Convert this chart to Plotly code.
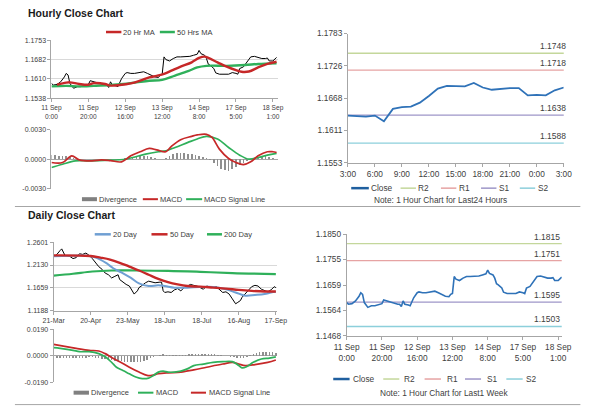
import plotly.graph_objects as go

W, H = 600, 413
FONT = "Liberation Sans, Arial, sans-serif"
TXT = "#404040"
AX = "#a6a6a6"
GRID = "#d9d9d9"


def px(x):
    return x / W


def py(y):
    return 1 - y / H


# ---------------- data ----------------
# hourly (last week), category index of hourly bars
hour_tick_idx = [0, 20, 40, 60, 80, 100, 120]
hour_tick_text = ["11 Sep<br>0:00", "11 Sep<br>20:00", "12 Sep<br>16:00", "13 Sep<br>12:00",
                  "14 Sep<br>8:00", "17 Sep<br>5:00", "18 Sep<br>1:00"]

hour_idx = [0, 1, 3, 5, 7, 8, 9, 10, 12, 14, 16, 18, 20, 21, 23, 25, 27, 29, 30, 31, 32, 33, 35, 36,
            38, 40, 41, 43, 45, 47, 49, 50, 52, 54, 56, 58, 59, 60, 61, 62, 64, 66, 68, 70, 71, 73,
            75, 77, 79, 80, 81, 83, 84, 85, 86, 88, 89, 91, 93, 95, 96, 98, 99, 100, 101, 102, 104,
            106, 108, 110, 111, 112, 114, 116, 117, 118, 120, 122]
hour_close = [1.1593, 1.1587, 1.1589, 1.1599, 1.1617, 1.1630, 1.1624, 1.1593, 1.1575, 1.1581, 1.1581,
              1.1584, 1.1589, 1.1603, 1.1599, 1.1593, 1.1589, 1.1587, 1.1587, 1.1578, 1.1599, 1.1587,
              1.1584, 1.1581, 1.1611, 1.1630, 1.1633, 1.1630, 1.1630, 1.1632, 1.1635, 1.1636, 1.1630,
              1.1624, 1.1617, 1.1615, 1.1624, 1.1627, 1.1691, 1.1681, 1.1676, 1.1685, 1.1691, 1.1691,
              1.1691, 1.1691, 1.1693, 1.1697, 1.1701, 1.1715, 1.1703, 1.1697, 1.1685, 1.1664, 1.1660,
              1.1648, 1.1632, 1.1627, 1.1626, 1.1626, 1.1627, 1.1633, 1.1632, 1.1630, 1.1627, 1.1648,
              1.1654, 1.1673, 1.1691, 1.1693, 1.1691, 1.1691, 1.1685, 1.1685, 1.1687, 1.1676, 1.1676,
              1.1689]

hour_ma20_idx = [3, 8, 10, 15, 20, 23, 29, 32, 37, 43, 48, 53, 57, 61, 65, 70, 76, 80, 83, 85, 90, 95,
                 100, 103, 107, 112, 117, 122]
hour_ma20 = [1.1588, 1.1596, 1.1597, 1.1591, 1.1588, 1.1594, 1.1591, 1.1585, 1.1587, 1.1593, 1.1603,
             1.1615, 1.1621, 1.1628, 1.1640, 1.1655, 1.1671, 1.1687, 1.1692, 1.1687, 1.1671, 1.1655,
             1.1642, 1.1636, 1.1637, 1.1652, 1.1665, 1.1673]

hour_ma50_idx = [0, 8, 15, 23, 32, 39, 46, 53, 60, 67, 74, 79, 84, 95, 105, 112, 122]
hour_ma50 = [1.1582, 1.1584, 1.1582, 1.1584, 1.1587, 1.1591, 1.1597, 1.1603, 1.1606, 1.1622, 1.1638,
             1.1652, 1.1658, 1.1658, 1.1661, 1.1665, 1.1667]

hour_macd_idx = [0, 6, 11, 15, 22, 27, 32, 38, 43, 48, 53, 57, 62, 65, 70, 76, 79, 84, 87, 91, 96, 100,
                 104, 108, 112, 117, 120, 122]
hour_macd = [-0.00034, -0.00034, 0.00034, -0.00007, -0.00017, -0.00007, -0.00014, -0.00027, 0.00034,
             0.00075, 0.00109, 0.00095, 0.00075, 0.00130, 0.00198, 0.00232, 0.00246, 0.00252, 0.00220,
             0.00102, 0.00007, -0.00034, -0.00055, -0.00027, 0.00034, 0.00075, 0.00075, 0.00068]

hour_signal_idx = [0, 6, 13, 20, 32, 39, 44, 51, 58, 62, 67, 74, 79, 84, 90, 96, 102, 107, 112, 117, 122]
hour_signal = [-0.00085, -0.00051, -0.00017, -0.00017, -0.00010, -0.00003, 0.00017, 0.00051, 0.00075,
               0.00085, 0.00119, 0.00170, 0.00205, 0.00232, 0.00205, 0.00119, 0.00041, 0.0, 0.00017,
               0.00041, 0.00058]

hour_div_idx = list(range(0, 123, 2))
hour_div = [0.0004, 0.0004, 0.00035, 0.0003, 0.0003, 0.00025, 0.0001, 0.00005, 0.00002, 0.00002,
            -0.00002, 0.00002, 0.00003, 0.00002, -0.00002, 0.00002, -0.00003, 0.00002, -0.00005,
            -0.0001, 0.0001, 0.0002, 0.00025, 0.0003, 0.0003, 0.0003, 0.0003, 0.0002, 0.0001, 0.00005,
            0.0, 0.0001, 0.0003, 0.0005, 0.0006, 0.0006, 0.0006, 0.00055, 0.0005, 0.0004, 0.0003,
            0.0002, 0.0001, -0.0001, -0.0004, -0.0007, -0.0010, -0.0011, -0.0012, -0.0010, -0.0008,
            -0.0006, -0.0004, -0.0002, 0.0, 0.0001, 0.0002, 0.0003, 0.0003, 0.0002, 0.0001, 0.00005]

# last 24 hours
h24_hours = list(range(25))
h24_close = [1.1637, 1.1636, 1.1635, 1.1637, 1.1627, 1.1649, 1.1652, 1.1653, 1.1660, 1.1672, 1.1685,
             1.1690, 1.1689, 1.1689, 1.1695, 1.1687, 1.1683, 1.1685, 1.1686, 1.1686, 1.1673, 1.1674,
             1.1673, 1.1682, 1.1687]
h24_tick_text = ["3:00", "6:00", "9:00", "12:00", "15:00", "18:00", "21:00", "0:00", "3:00"]
h24_tick_vals = [0, 3, 6, 9, 12, 15, 18, 21, 24]
h24_levels = {"R2": 1.1748, "R1": 1.1718, "S1": 1.1638, "S2": 1.1588}

# daily
day_tick_idx = [0, 23, 46, 69, 92, 115, 138]
day_tick_text = ["21-Mar", "20-Apr", "23-May", "18-Jun", "18-Jul", "16-Aug", "17-Sep"]

day_idx = [0, 2, 4, 5, 7, 10, 12, 14, 16, 18, 20, 22, 24, 26, 28, 30, 32, 34, 36, 38, 40, 41, 43, 45,
           47, 49, 50, 52, 53, 55, 57, 59, 61, 63, 66, 67, 68, 69, 71, 73, 75, 77, 79, 81, 83, 85, 87,
           89, 91, 93, 95, 97, 99, 101, 103, 105, 107, 109, 111, 113, 114, 116, 117, 119, 121, 123,
           125, 127, 129, 131, 133, 135, 137, 138]
day_close = [1.2296, 1.2349, 1.2429, 1.2462, 1.2329, 1.2309, 1.2263, 1.2283, 1.2362, 1.2349, 1.2376,
             1.2329, 1.2263, 1.2177, 1.2097, 1.2044, 1.1965, 1.1931, 1.1865, 1.1898, 1.1931, 1.1832,
             1.1779, 1.1732, 1.1699, 1.1580, 1.1534, 1.1600, 1.1666, 1.1713, 1.1766, 1.1799, 1.1779,
             1.1766, 1.1779, 1.1779, 1.1600, 1.1567, 1.1580, 1.1567, 1.1620, 1.1646, 1.1600, 1.1666,
             1.1699, 1.1732, 1.1713, 1.1699, 1.1666, 1.1633, 1.1699, 1.1686, 1.1666, 1.1686, 1.1633,
             1.1567, 1.1580, 1.1534, 1.1434, 1.1335, 1.1355, 1.1401, 1.1467, 1.1534, 1.1600, 1.1686,
             1.1713, 1.1699, 1.1633, 1.1600, 1.1580, 1.1620, 1.1686, 1.1666]

day_ma20_idx = [0, 21, 25, 29, 33, 37, 42, 48, 53, 59, 65, 69, 75, 83, 91, 99, 107, 113, 119, 125, 131,
                135, 138]
day_ma20 = [1.2309, 1.2322, 1.2296, 1.2243, 1.2163, 1.2064, 1.1978, 1.1865, 1.1752, 1.1699, 1.1713,
            1.1699, 1.1666, 1.1666, 1.1679, 1.1679, 1.1633, 1.1567, 1.1501, 1.1514, 1.1534, 1.1567,
            1.1580]

day_ma50_idx = [0, 23, 29, 35, 41, 47, 53, 59, 65, 71, 77, 83, 91, 99, 107, 115, 123, 131, 138]
day_ma50 = [1.2329, 1.2316, 1.2283, 1.2243, 1.2177, 1.2097, 1.2018, 1.1931, 1.1845, 1.1779, 1.1732,
            1.1699, 1.1686, 1.1666, 1.1646, 1.1620, 1.1600, 1.1587, 1.1587]

day_ma200_idx = [0, 12, 24, 36, 51, 71, 91, 111, 138]
day_ma200 = [1.1911, 1.1951, 1.1998, 1.2018, 1.2018, 1.2011, 1.1991, 1.1965, 1.1945]

day_macd_idx = [0, 4, 12, 16, 22, 28, 32, 36, 39, 43, 47, 51, 55, 59, 62, 65, 68, 71, 75, 79, 83, 87,
                93, 99, 105, 111, 115, 117, 120, 124, 129, 134, 138]
day_macd = [0.0059, 0.0054, 0.0040, 0.0030, 0.0030, 0.0016, -0.0007, -0.0047, -0.0082, -0.0106,
            -0.0129, -0.0152, -0.0164, -0.0160, -0.0141, -0.0117, -0.0110, -0.0117, -0.0117, -0.0110,
            -0.0094, -0.0070, -0.0059, -0.0047, -0.0042, -0.0042, -0.0070, -0.0087, -0.0077, -0.0047,
            -0.0023, -0.0016, -0.0007]

day_signal_idx = [0, 6, 14, 22, 28, 32, 36, 41, 47, 53, 58, 61, 65, 71, 79, 87, 95, 105, 111, 115, 119,
                  125, 133, 138]
day_signal = [0.0082, 0.0070, 0.0054, 0.0040, 0.0035, 0.0016, -0.0012, -0.0042, -0.0082, -0.0117,
              -0.0141, -0.0141, -0.0129, -0.0122, -0.0117, -0.0101, -0.0082, -0.0059, -0.0047, -0.0059,
              -0.0070, -0.0063, -0.0047, -0.0030]

day_div_idx = list(range(0, 139, 2))
day_div = [-0.0010, -0.0012, -0.0012, -0.0013, -0.0014, -0.0014,
           -0.0015, -0.0016, -0.0015, -0.0013, -0.0012,
           -0.0010, -0.0010, -0.0012, -0.0015,
           -0.0020, -0.0025, -0.0030, -0.0033, -0.0035,
           -0.0038, -0.0040, -0.0042, -0.0045, -0.0046,
           -0.0047, -0.0046, -0.0044, -0.0038, -0.0028,
           -0.0018, -0.0008, 0.0002, 0.0008, 0.0010,
           0.0008, 0.0006, 0.0004, 0.0003, 0.0004,
           0.0006, 0.0008, 0.0010, 0.0012, 0.0013,
           0.0014, 0.0015, 0.0015, 0.0014, 0.0012,
           0.0010, 0.0008, 0.0005, 0.0002, -0.0002,
           -0.0006, -0.0010, -0.0013, -0.0015, -0.0012,
           -0.0005, 0.0005, 0.0015, 0.0022, 0.0027,
           0.0030, 0.0029, 0.0027, 0.0025, 0.0022]

wk_levels = {"R2": 1.1815, "R1": 1.1751, "S1": 1.1595, "S2": 1.1503}

# ---------------- styles ----------------
RED = "#c62828"
GREEN = "#2fb05a"
BLUE20 = "#6f9fd3"
CLOSE = "#2f72b8"
LEVEL_COLORS = {"R2": "#c4d79b", "R1": "#e6a3a3", "S1": "#9e96c8", "S2": "#8ccfdb"}
HIST = "#8f8f8f"

fig = go.Figure()

# Panel A: hourly price
fig.add_trace(go.Scatter(x=hour_idx, y=hour_close, mode="lines", line=dict(color="#000000", width=1),
                         xaxis="x", yaxis="y", showlegend=False))
fig.add_trace(go.Scatter(x=hour_ma50_idx, y=hour_ma50, mode="lines", line=dict(color=GREEN, width=2.4),
                         line_shape="spline", xaxis="x", yaxis="y", showlegend=False))
fig.add_trace(go.Scatter(x=hour_ma20_idx, y=hour_ma20, mode="lines", line=dict(color=RED, width=2.4),
                         line_shape="spline", xaxis="x", yaxis="y", showlegend=False))

# Panel B: hourly MACD
fig.add_trace(go.Bar(x=hour_div_idx, y=hour_div, width=0.9, marker=dict(color=HIST, line_width=0),
                     xaxis="x2", yaxis="y2", showlegend=False))
fig.add_trace(go.Scatter(x=hour_signal_idx, y=hour_signal, mode="lines", line=dict(color=GREEN, width=1.7),
                         line_shape="spline", xaxis="x2", yaxis="y2", showlegend=False))
fig.add_trace(go.Scatter(x=hour_macd_idx, y=hour_macd, mode="lines", line=dict(color=RED, width=1.7),
                         line_shape="spline", xaxis="x2", yaxis="y2", showlegend=False))

# Panel C: last 24h
fig.add_trace(go.Scatter(x=h24_hours, y=h24_close, mode="lines", line=dict(color=CLOSE, width=1.8),
                         xaxis="x3", yaxis="y3", showlegend=False))

# Panel D: daily price
fig.add_trace(go.Scatter(x=day_idx, y=day_close, mode="lines", line=dict(color="#000000", width=1),
                         xaxis="x4", yaxis="y4", showlegend=False))
fig.add_trace(go.Scatter(x=day_ma200_idx, y=day_ma200, mode="lines", line=dict(color=GREEN, width=2.2),
                         line_shape="spline", xaxis="x4", yaxis="y4", showlegend=False))
fig.add_trace(go.Scatter(x=day_ma20_idx, y=day_ma20, mode="lines", line=dict(color=BLUE20, width=2),
                         line_shape="spline", xaxis="x4", yaxis="y4", showlegend=False))
fig.add_trace(go.Scatter(x=day_ma50_idx, y=day_ma50, mode="lines", line=dict(color=RED, width=2.4),
                         line_shape="spline", xaxis="x4", yaxis="y4", showlegend=False))

# Panel E: daily MACD
fig.add_trace(go.Bar(x=day_div_idx, y=day_div, width=0.9, marker=dict(color=HIST, line_width=0),
                     xaxis="x5", yaxis="y5", showlegend=False))
fig.add_trace(go.Scatter(x=day_signal_idx, y=day_signal, mode="lines", line=dict(color=RED, width=1.7),
                         line_shape="spline", xaxis="x5", yaxis="y5", showlegend=False))
fig.add_trace(go.Scatter(x=day_macd_idx, y=day_macd, mode="lines", line=dict(color=GREEN, width=1.7),
                         line_shape="spline", xaxis="x5", yaxis="y5", showlegend=False))

# Panel F: last week hourly close
fig.add_trace(go.Scatter(x=hour_idx, y=hour_close, mode="lines", line=dict(color=CLOSE, width=1.6),
                         xaxis="x6", yaxis="y6", showlegend=False))

shapes = []
annotations = []

# level lines
for ax, levels, xs in (("3", h24_levels, 4), ("6", wk_levels, 0)):
    for name, v in levels.items():
        shapes.append(dict(type="line", xref=f"x{ax} domain", yref=f"y{ax}", x0=0, x1=1, y0=v, y1=v,
                           line=dict(color=LEVEL_COLORS[name], width=1.3), layer="below"))
        annotations.append(dict(text=f"{v:.4f}", xref=f"x{ax} domain", yref=f"y{ax}", x=1, y=v,
                                xanchor="right", yanchor="bottom", xshift=xs, yshift=0, showarrow=False,
                                font=dict(size=8.5, color=TXT, family=FONT)))


def legend_line(x0, x1, y, color, width, label, tx, fs=7.5):
    shapes.append(dict(type="line", xref="paper", yref="paper", x0=px(x0), x1=px(x1), y0=py(y), y1=py(y),
                       line=dict(color=color, width=width)))
    annotations.append(dict(text=label, xref="paper", yref="paper", x=px(tx), y=py(y), xanchor="left",
                            yanchor="middle", showarrow=False, font=dict(size=fs, color=TXT, family=FONT)))


def text(x, y, s, fs, anchor="left", bold=False, color=TXT):
    annotations.append(dict(text=f"<b>{s}</b>" if bold else s, xref="paper", yref="paper", x=px(x), y=py(y),
                            xanchor=anchor, yanchor="middle", showarrow=False,
                            font=dict(size=fs, color=color, family=FONT)))


# titles
text(14, 8.5, "Hourly Close Chart", 10.5, bold=True, color="#1a1a1a")
text(14, 215, "Daily Close Chart", 10.5, bold=True, color="#1a1a1a")

# legends
legend_line(96.7, 112.7, 27.7, RED, 2.5, "20 Hr MA", 112.5)
legend_line(152.7, 168.3, 27.7, GREEN, 2.5, "50 Hrs MA", 168.5)

legend_line(71.7, 87.3, 199, "#808080", 4, "Divergence", 87.5)
legend_line(135, 150.7, 199, RED, 2, "MACD", 151)
legend_line(180, 196.7, 199, GREEN, 2, "MACD Signal Line", 197)

legend_line(351.7, 370, 187.7, "#1f5f9f", 2.5, "Close", 370.5, 8.3)
legend_line(403, 419, 187.7, LEVEL_COLORS["R2"], 1.5, "R2", 419.5, 8.3)
legend_line(445, 461, 187.7, LEVEL_COLORS["R1"], 1.5, "R1", 461.5, 8.3)
legend_line(486.7, 502.7, 187.7, LEVEL_COLORS["S1"], 1.5, "S1", 503, 8.3)
legend_line(527, 543, 187.7, LEVEL_COLORS["S2"], 1.5, "S2", 543.5, 8.3)
text(445, 200, "Note: 1 Hour Chart for Last24 Hours", 8.3, anchor="center")

legend_line(85, 101.7, 235, BLUE20, 2.5, "20 Day", 102)
legend_line(144, 160.7, 235, RED, 2.5, "50 Day", 161)
legend_line(201.7, 217.3, 235, GREEN, 2.5, "200 Day", 217.5)

legend_line(63, 79, 397.3, "#808080", 4, "Divergence", 79.5)
legend_line(130, 146, 397.3, GREEN, 2, "MACD", 147)
legend_line(185, 200.7, 397.3, RED, 2, "MACD Signal Line", 201.5)

legend_line(333, 350, 383.3, "#1f5f9f", 2.5, "Close", 351, 8.3)
legend_line(385, 401.7, 383.3, LEVEL_COLORS["R2"], 1.5, "R2", 404.5, 8.3)
legend_line(428, 445, 383.3, LEVEL_COLORS["R1"], 1.5, "R1", 449, 8.3)
legend_line(470, 486.7, 383.3, LEVEL_COLORS["S1"], 1.5, "S1", 491, 8.3)
legend_line(513, 530, 383.3, LEVEL_COLORS["S2"], 1.5, "S2", 531, 8.3)
text(448, 397.7, "Note: 1 Hour Chart for Last1 Week", 8.3, anchor="center")

# separators
for yy in (206.5, 409.5):
    shapes.append(dict(type="line", xref="paper", yref="paper", x0=px(2), x1=px(590), y0=py(yy), y1=py(yy),
                       line=dict(color=AX, width=1)))


def yax(domain, rng, vals, texts, fs, grid):
    return dict(domain=domain, range=rng, tickvals=vals, ticktext=texts, showgrid=grid, gridcolor=GRID,
                gridwidth=1, showline=True, linecolor=AX, linewidth=1, ticks="outside", ticklen=3,
                tickcolor=AX, tickfont=dict(size=fs, color=TXT, family=FONT), zeroline=False, fixedrange=True)


def xax(domain, rng, anchor, vals, texts, fs, show=True):
    return dict(domain=domain, range=rng, anchor=anchor, tickvals=vals, ticktext=texts, showgrid=False,
                showline=show, linecolor=AX, linewidth=1, ticks="outside" if show else "", ticklen=3,
                tickcolor=AX, showticklabels=show, tickfont=dict(size=fs, color=TXT, family=FONT),
                zeroline=False, tickangle=0, fixedrange=True)


hA = [px(40), px(276)]
dA = [px(42.3), px(275)]

layout = dict(
    width=W, height=H, margin=dict(l=0, r=0, t=0, b=0), paper_bgcolor="white", plot_bgcolor="white",
    barmode="overlay", bargap=0, showlegend=False, shapes=shapes, annotations=annotations,
    xaxis=xax(hA, [0, 123], "y", hour_tick_idx, hour_tick_text, 6.6),
    yaxis=yax([py(95.6), py(36)], [1.1538, 1.1753], [1.1538, 1.1610, 1.1682, 1.1753],
              ["1.1538", "1.1610", "1.1682", "1.1753"], 7, True),
    xaxis2=xax(hA, [0, 123], "y2", [], [], 7, show=False),
    yaxis2=yax([py(188.3), py(127.7)], [-0.003, 0.003], [-0.003, 0.0, 0.003],
               ["-0.0030", "0.0000", "0.0030"], 7, True),
    xaxis3=xax([px(348.3), px(572.7)], [0, 24], "y3", h24_tick_vals, h24_tick_text, 8.3),
    yaxis3=yax([py(161.7), py(29.3)], [1.1553, 1.1783], [1.1553, 1.1611, 1.1668, 1.1726, 1.1783],
               ["1.1553", "1.1611", "1.1668", "1.1726", "1.1783"], 8.3, False),
    xaxis4=xax(dA, [0, 139], "y4", day_tick_idx, day_tick_text, 7),
    yaxis4=yax([py(313.5), py(243)], [1.1188, 1.2601], [1.1188, 1.1659, 1.2130, 1.2601],
               ["1.1188", "1.1659", "1.2130", "1.2601"], 7, True),
    xaxis5=xax(dA, [0, 139], "y5", [], [], 7, show=False),
    yaxis5=yax([py(386.6), py(332.5)], [-0.019, 0.019], [-0.019, 0.0, 0.019],
               ["-0.0190", "0.0000", "0.0190"], 7, True),
    xaxis6=xax([px(347), px(570.6)], [0, 122], "y6", hour_tick_idx, hour_tick_text, 8.3),
    yaxis6=yax([py(339), py(235)], [1.1468, 1.1850], [1.1468, 1.1564, 1.1659, 1.1755, 1.1850],
               ["1.1468", "1.1564", "1.1659", "1.1755", "1.1850"], 8.3, False),
)
layout["yaxis2"].update(zeroline=True, zerolinecolor=AX, zerolinewidth=1)
layout["yaxis5"].update(zeroline=True, zerolinecolor=AX, zerolinewidth=1)
layout["yaxis"]["anchor"] = "x"
layout["yaxis2"]["anchor"] = "x2"
layout["yaxis3"]["anchor"] = "x3"
layout["yaxis4"]["anchor"] = "x4"
layout["yaxis5"]["anchor"] = "x5"
layout["yaxis6"]["anchor"] = "x6"

fig.update_layout(**layout)

fig.write_html("out.html", config={"displayModeBar": False, "staticPlot": True},
               post_script="document.body.style.margin='0px';")
